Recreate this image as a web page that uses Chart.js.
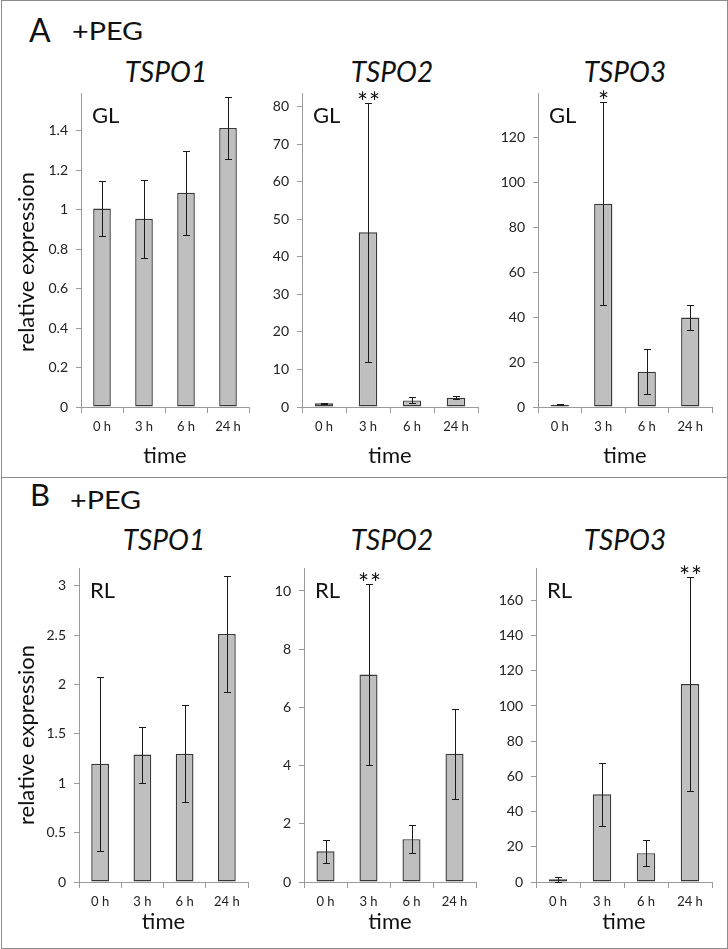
<!DOCTYPE html>
<html>
<head>
<meta charset="utf-8">
<script src="https://cdn.jsdelivr.net/npm/chart.js@4.4.0/dist/chart.umd.min.js"></script>
<style>
body{margin:0;background:#fff;}
#fig{position:relative;width:728px;height:949px;background:#fff;font-family:Lato,sans-serif;color:#111;overflow:hidden;}
.box{position:absolute;border:1px solid #8c8c8c;box-sizing:border-box;}
.lbl{position:absolute;line-height:1;white-space:nowrap;}
.peg{position:absolute;line-height:1;white-space:nowrap;font-size:25px;transform:scaleX(1.15);transform-origin:0 0;}
.gene{position:absolute;line-height:1;font-style:italic;font-size:28px;white-space:nowrap;transform:translateX(-50%);}
canvas{position:absolute;}
</style>
</head>
<body>
<div id="fig">
  <div class="box" style="left:1px;top:0;width:727px;height:478px"></div>
  <div class="box" style="left:1px;top:477px;width:727px;height:472px"></div>

  <div class="lbl" style="left:29px;top:14px;font-size:32px">A</div>
  <div class="peg" style="left:72px;top:18px">+PEG</div>
  <div class="gene" style="left:166px;top:57px">TSPO1</div>
  <div class="gene" style="left:392px;top:57px">TSPO2</div>
  <div class="gene" style="left:625px;top:57px">TSPO3</div>

  <div class="lbl" style="left:30px;top:479px;font-size:31px">B</div>
  <div class="peg" style="left:70px;top:487px">+PEG</div>
  <div class="gene" style="left:164px;top:525px">TSPO1</div>
  <div class="gene" style="left:392px;top:525px">TSPO2</div>
  <div class="gene" style="left:625px;top:525px">TSPO3</div>
</div>

<script>
'use strict';

// ---- data ----
const timeLabels = ['0 h', '3 h', '6 h', '24 h'];

const glTspo1 = [1.005, 0.953, 1.085, 1.413];
const glTspo1Err = [0.137, 0.198, 0.213, 0.155];
const glTspo1Stars = ['', '', '', ''];

const glTspo2 = [1.0, 46.5, 1.75, 2.45];
const glTspo2Err = [0.15, 34.4, 0.8, 0.45];
const glTspo2Stars = ['', '**', '', ''];

const glTspo3 = [1.0, 90.4, 15.7, 39.8];
const glTspo3Err = [0.3, 45.2, 10.0, 5.5];
const glTspo3Stars = ['', '*', '', ''];

const rlTspo1 = [1.197, 1.29, 1.298, 2.512];
const rlTspo1Err = [0.88, 0.283, 0.49, 0.583];
const rlTspo1Stars = ['', '', '', ''];

const rlTspo2 = [1.055, 7.13, 1.47, 4.41];
const rlTspo2Err = [0.39, 3.1, 0.48, 1.55];
const rlTspo2Stars = ['', '**', '', ''];

const rlTspo3 = [1.5, 49.8, 16.4, 112.5];
const rlTspo3Err = [1.3, 17.7, 7.5, 60.6];
const rlTspo3Stars = ['', '', '', '**'];

// axis ranges and tick steps
const yMax = [1.59, 83.6, 139.6, 3.18, 10.79, 178.4];
const yStep = [0.2, 10, 20, 0.5, 2, 20];

// ---- layout (page pixels of each plot area) ----
const layout = [
  {col: 2,   L: 81,  R: 249, T: 93,  B: 407, xH: 62, tickPad: 6, yTitleDy: 12},
  {col: 252, L: 302, R: 478, T: 93,  B: 407, xH: 62, tickPad: 6},
  {col: 488, L: 538, R: 712, T: 93,  B: 407, xH: 62, tickPad: 6},
  {col: 2,   L: 79,  R: 248, T: 568, B: 882, xH: 53, tickPad: 6, yTitleDy: 10},
  {col: 252, L: 304, R: 476, T: 568, B: 882, xH: 53, tickPad: 6},
  {col: 488, L: 536, R: 712, T: 568, B: 882, xH: 53, tickPad: 6}
];

const series = [
  {data: glTspo1, err: glTspo1Err, stars: glTspo1Stars, tag: 'GL'},
  {data: glTspo2, err: glTspo2Err, stars: glTspo2Stars, tag: 'GL'},
  {data: glTspo3, err: glTspo3Err, stars: glTspo3Stars, tag: 'GL'},
  {data: rlTspo1, err: rlTspo1Err, stars: rlTspo1Stars, tag: 'RL'},
  {data: rlTspo2, err: rlTspo2Err, stars: rlTspo2Stars, tag: 'RL'},
  {data: rlTspo3, err: rlTspo3Err, stars: rlTspo3Stars, tag: 'RL'}
];

const FONT = 'Lato, sans-serif';
const AXIS = '#9a9a9a';
const PAD_TOP = 26;
const PAD_RIGHT = 8;

// error bars, significance stars, the GL / RL tag and the y title
const errorBars = {
  id: 'errorBars',
  afterDatasetsDraw(chart, args, opts) {
    const ctx = chart.ctx;
    const y = chart.scales.y;
    const area = chart.chartArea;
    const vals = chart.data.datasets[0].data;
    const bars = chart.getDatasetMeta(0).data;
    ctx.save();
    ctx.strokeStyle = '#1a1a1a';
    ctx.lineWidth = 1;
    bars.forEach(function(bar, i){
      const cx = Math.round(bar.x) + 0.5;
      const hi = Math.round(y.getPixelForValue(vals[i] + opts.err[i])) + 0.5;
      const lo = Math.round(y.getPixelForValue(Math.max(0, vals[i] - opts.err[i]))) + 0.5;
      ctx.beginPath();
      ctx.moveTo(cx, hi); ctx.lineTo(cx, lo);
      ctx.moveTo(cx - 3.5, hi); ctx.lineTo(cx + 3.5, hi);
      ctx.moveTo(cx - 3.5, lo); ctx.lineTo(cx + 3.5, lo);
      ctx.stroke();

      const s = opts.stars[i];
      if (s) {
        ctx.fillStyle = '#111';
        ctx.font = '26px ' + FONT;
        ctx.textAlign = 'center';
        ctx.textBaseline = 'alphabetic';
        for (let k = 0; k < s.length; k++) {
          const off = (k - (s.length - 1) / 2) * 12;
          ctx.fillText('*', cx + off, hi + 8);
        }
      }
    });
    ctx.fillStyle = '#111';
    ctx.font = '22px ' + FONT;
    ctx.textAlign = 'left';
    ctx.textBaseline = 'alphabetic';
    ctx.fillText(opts.tag, area.left + 11, area.top + 30);

    if (opts.yTitle) {
      ctx.translate(25, (area.top + area.bottom) / 2 + opts.yTitleDy);
      ctx.rotate(-Math.PI / 2);
      ctx.font = '22px ' + FONT;
      ctx.textAlign = 'center';
      ctx.textBaseline = 'middle';
      ctx.fillText(opts.yTitle, 0, 0);
    }
    ctx.restore();
  }
};

let Figure = function(){

  var _make = function(i){
    const lay = layout[i];
    const ser = series[i];
    const first = (i % 3 === 0);
    const yW = lay.L - lay.col;
    const canvas = document.createElement('canvas');
    canvas.width = lay.R + PAD_RIGHT - lay.col;
    canvas.height = PAD_TOP + (lay.B - lay.T) + lay.xH;
    canvas.style.left = lay.col + 'px';
    canvas.style.top = (lay.T - PAD_TOP) + 'px';
    document.getElementById('fig').appendChild(canvas);

    var config = {
      type: 'bar',
      data: {
        labels: timeLabels,
        datasets: [{
          data: ser.data,
          backgroundColor: '#bfbfbf',
          borderColor: '#383838',
          borderWidth: 1.4,
          borderSkipped: false,
          barPercentage: 0.42,
          categoryPercentage: 1
        }]
      },
      options: {
        responsive: false,
        animation: false,
        devicePixelRatio: 1,
        layout: {padding: {top: PAD_TOP, right: PAD_RIGHT, left: 0, bottom: 0}},
        plugins: {
          legend: {display: false},
          tooltip: {enabled: false},
          errorBars: {err: ser.err, stars: ser.stars, tag: ser.tag,
                      yTitle: first ? 'relative expression' : '', yTitleDy: lay.yTitleDy || 0}
        },
        scales: {
          x: {
            offset: true,
            grid: {offset: true, drawOnChartArea: false, tickLength: 6, color: AXIS},
            border: {color: AXIS, width: 1},
            ticks: {padding: lay.tickPad, color: '#222', maxRotation: 0, autoSkip: false,
                    font: {family: FONT, size: 13}},
            title: {display: true, text: 'time', color: '#111',
                    font: {family: FONT, size: 22}, padding: {top: 0, bottom: 0}},
            afterFit: function(s){ s.height = lay.xH; }
          },
          y: {
            min: 0,
            max: yMax[i],
            grid: {drawOnChartArea: false, tickLength: 5, color: AXIS},
            border: {color: AXIS, width: 1},
            ticks: {stepSize: yStep[i], includeBounds: false, padding: 8, color: '#222',
                    font: {family: FONT, size: 14},
                    callback: function(v){ return String(+v.toFixed(2)); }},
            afterFit: function(s){ s.width = yW; }
          }
        }
      },
      plugins: [errorBars]
    };
    new Chart(canvas, config);
  };

  return {
    init: function(){
      for (let i = 0; i < layout.length; i++) _make(i);
    }
  };
}();

document.addEventListener('DOMContentLoaded', function(){
  Figure.init();
});
</script>
</body>
</html>
